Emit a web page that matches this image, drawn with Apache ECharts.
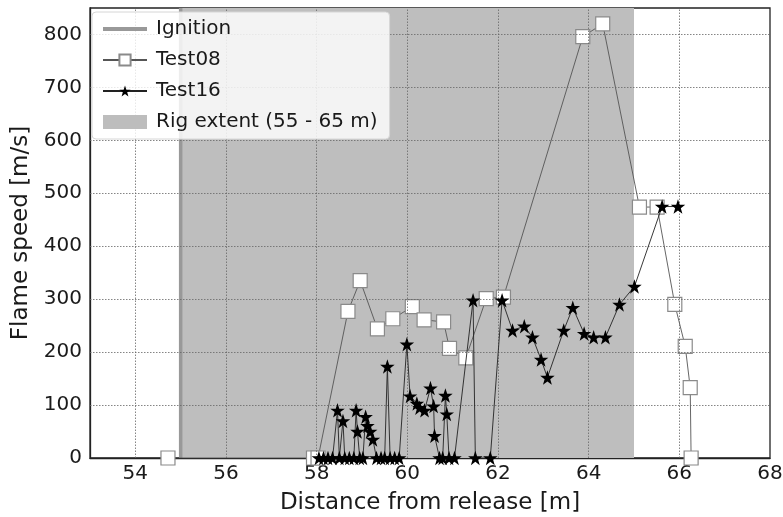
<!DOCTYPE html>
<html>
<head>
<meta charset="utf-8">
<script src="https://cdn.jsdelivr.net/npm/echarts@6/dist/echarts.min.js"></script>
<style>html,body{margin:0;padding:0;background:#fff}#c{width:783px;height:517px}</style>
</head>
<body>
<div id="c"></div>
<script>
// ---- data ----
const test08X = [54.72, 57.93, 58.03, 58.69, 58.96, 59.34, 59.68, 60.11, 60.37, 60.80, 60.93, 61.29, 61.74, 62.12, 63.87, 64.31, 65.12, 65.51, 65.90, 66.13, 66.24, 66.26];
const test08Y = [0, 0, 0, 277, 335, 244, 263, 286, 261, 257, 207, 189, 301, 304, 796, 820, 474, 474, 290, 211, 133, 0];

const test16X = [58.05, 58.15, 58.25, 58.35, 58.46, 58.50, 58.58, 58.62, 58.72, 58.82, 58.87, 58.90, 58.95, 59.02, 59.08, 59.12, 59.18, 59.24, 59.32, 59.42, 59.50, 59.56, 59.62, 59.72, 59.82, 59.99, 60.06, 60.21, 60.27, 60.38, 60.51, 60.58, 60.60, 60.71, 60.78, 60.84, 60.87, 60.92, 61.04, 61.45, 61.50, 61.83, 62.09, 62.32, 62.58, 62.76, 62.95, 63.09, 63.45, 63.65, 63.90, 64.11, 64.37, 64.68, 65.01, 65.62, 65.97];
const test16Y = [0, 0, 0, 0, 90, 0, 70, 0, 0, 0, 90, 50, 0, 0, 78, 61, 50, 35, 0, 0, 0, 173, 0, 0, 0, 215, 117, 103, 95, 90, 132, 98, 42, 0, 0, 118, 83, 0, 0, 298, 0, 0, 298, 241, 249, 228, 186, 152, 241, 284, 235, 228, 228, 290, 324, 475, 475];

const ignitionX = 55;
const rigExtent = [55, 65];
const xGridValues = [54, 56, 58, 60, 62, 64, 66];
const yGridValues = [100, 200, 300, 400, 500, 600, 700, 800];
const xTickLabels = [54, 56, 58, 60, 62, 64, 66, 68];

const names = { ign: 'Ignition', t08: 'Test08', t16: 'Test16', rig: 'Rig extent (55 - 65 m)' };

const zip = (xs, ys) => xs.map((x, i) => [x, ys[i]]);
const starPath = 'path://M50,0 L61.8,35.3 L98.1,35.3 L68.8,57.1 L79.4,91.9 L50,70.5 L20.6,91.9 L31.2,57.1 L1.9,35.3 L38.2,35.3 Z';
const thickLineIcon = 'path://M0,0 L0.01,0 M0,5 L44,5 L44,9 L0,9 Z M43.99,14 L44,14';
const FONT = 'DejaVu Sans';
const TXT = '#1a1a1a';

const chart = echarts.init(document.getElementById('c'), null, { renderer: 'canvas' });
const gridLineStyle = { color: '#666', type: [1.5, 1.5], width: 0.8 };

chart.setOption({
  animation: false,
  textStyle: { fontFamily: FONT },
  grid: { left: 90, right: 13, top: 8, bottom: 59, outerBoundsMode: 'none', containLabel: false, show: true, borderColor: '#222', borderWidth: 1.3, backgroundColor: 'transparent' },
  xAxis: {
    type: 'value', min: 53, max: 68, interval: 1,
    name: 'Distance from release [m]', nameLocation: 'middle', nameGap: 34,
    nameTextStyle: { fontFamily: FONT, fontSize: 23, color: TXT },
    axisLine: { show: true, lineStyle: { color: '#222', width: 1.3 } },
    axisTick: { show: false },
    splitLine: { show: false },
    axisLabel: {
      fontFamily: FONT, fontSize: 20, color: TXT, margin: 6,
      formatter: v => xTickLabels.includes(v) ? String(v) : ''
    }
  },
  yAxis: {
    type: 'value', min: 0, max: 850, interval: 100,
    name: 'Flame speed [m/s]', nameLocation: 'middle', nameGap: 56,
    nameTextStyle: { fontFamily: FONT, fontSize: 23, color: TXT },
    axisLine: { show: true, lineStyle: { color: '#222', width: 1.3 } },
    axisTick: { show: false },
    splitLine: { show: false },
    axisLabel: {
      fontFamily: FONT, fontSize: 20, color: TXT, margin: 8,
      formatter: v => (v % 100 === 0) ? String(v) : ''
    }
  },
  legend: {
    orient: 'vertical', left: 92, top: 12, z: 20,
    padding: [6, 12, 6, 10],
    backgroundColor: 'rgba(255,255,255,0.82)',
    borderColor: '#d6d6d6', borderWidth: 1, borderRadius: 4,
    itemWidth: 44, itemHeight: 14, itemGap: 9,
    textStyle: { fontFamily: FONT, fontSize: 20, color: TXT, lineHeight: 22, padding: [0, 0, 0, 4] },
    data: [
      { name: names.ign, icon: thickLineIcon, itemStyle: { color: '#999', borderWidth: 0 } },
      { name: names.t08 },
      { name: names.t16 },
      { name: names.rig, icon: 'rect', itemStyle: { color: '#bdbdbd' } }
    ]
  },
  series: [
    {
      name: names.rig, type: 'line', data: [], z: 1, color: '#bdbdbd',
      markArea: {
        silent: true,
        itemStyle: { color: '#bebebe', opacity: 1 },
        data: [[{ xAxis: rigExtent[0] }, { xAxis: rigExtent[1] }]]
      }
    },
    {
      name: 'grid', type: 'line', data: [], z: 2,
      markLine: {
        silent: true, symbol: ['none', 'none'], label: { show: false },
        lineStyle: gridLineStyle,
        data: xGridValues.map(v => ({ xAxis: v })).concat(yGridValues.map(v => ({ yAxis: v })))
      }
    },
    {
      name: names.ign, type: 'line', z: 3, symbol: 'none', color: '#999',
      lineStyle: { color: '#999', width: 3.5 },
      data: [[ignitionX, 0], [ignitionX, 850]]
    },
    {
      name: names.t08, type: 'line', z: 4, data: zip(test08X, test08Y),
      symbol: 'rect', symbolSize: 14, color: '#fff',
      itemStyle: { color: '#fff', borderColor: '#8a8a8a', borderWidth: 1.2 },
      lineStyle: { color: '#555', width: 0.9 }
    },
    {
      name: names.t16, type: 'line', z: 5, data: zip(test16X, test16Y),
      symbol: starPath, symbolSize: 14.5, color: '#000',
      itemStyle: { color: '#000' },
      lineStyle: { color: '#222', width: 0.9 }
    }
  ]
});
</script>
</body>
</html>
